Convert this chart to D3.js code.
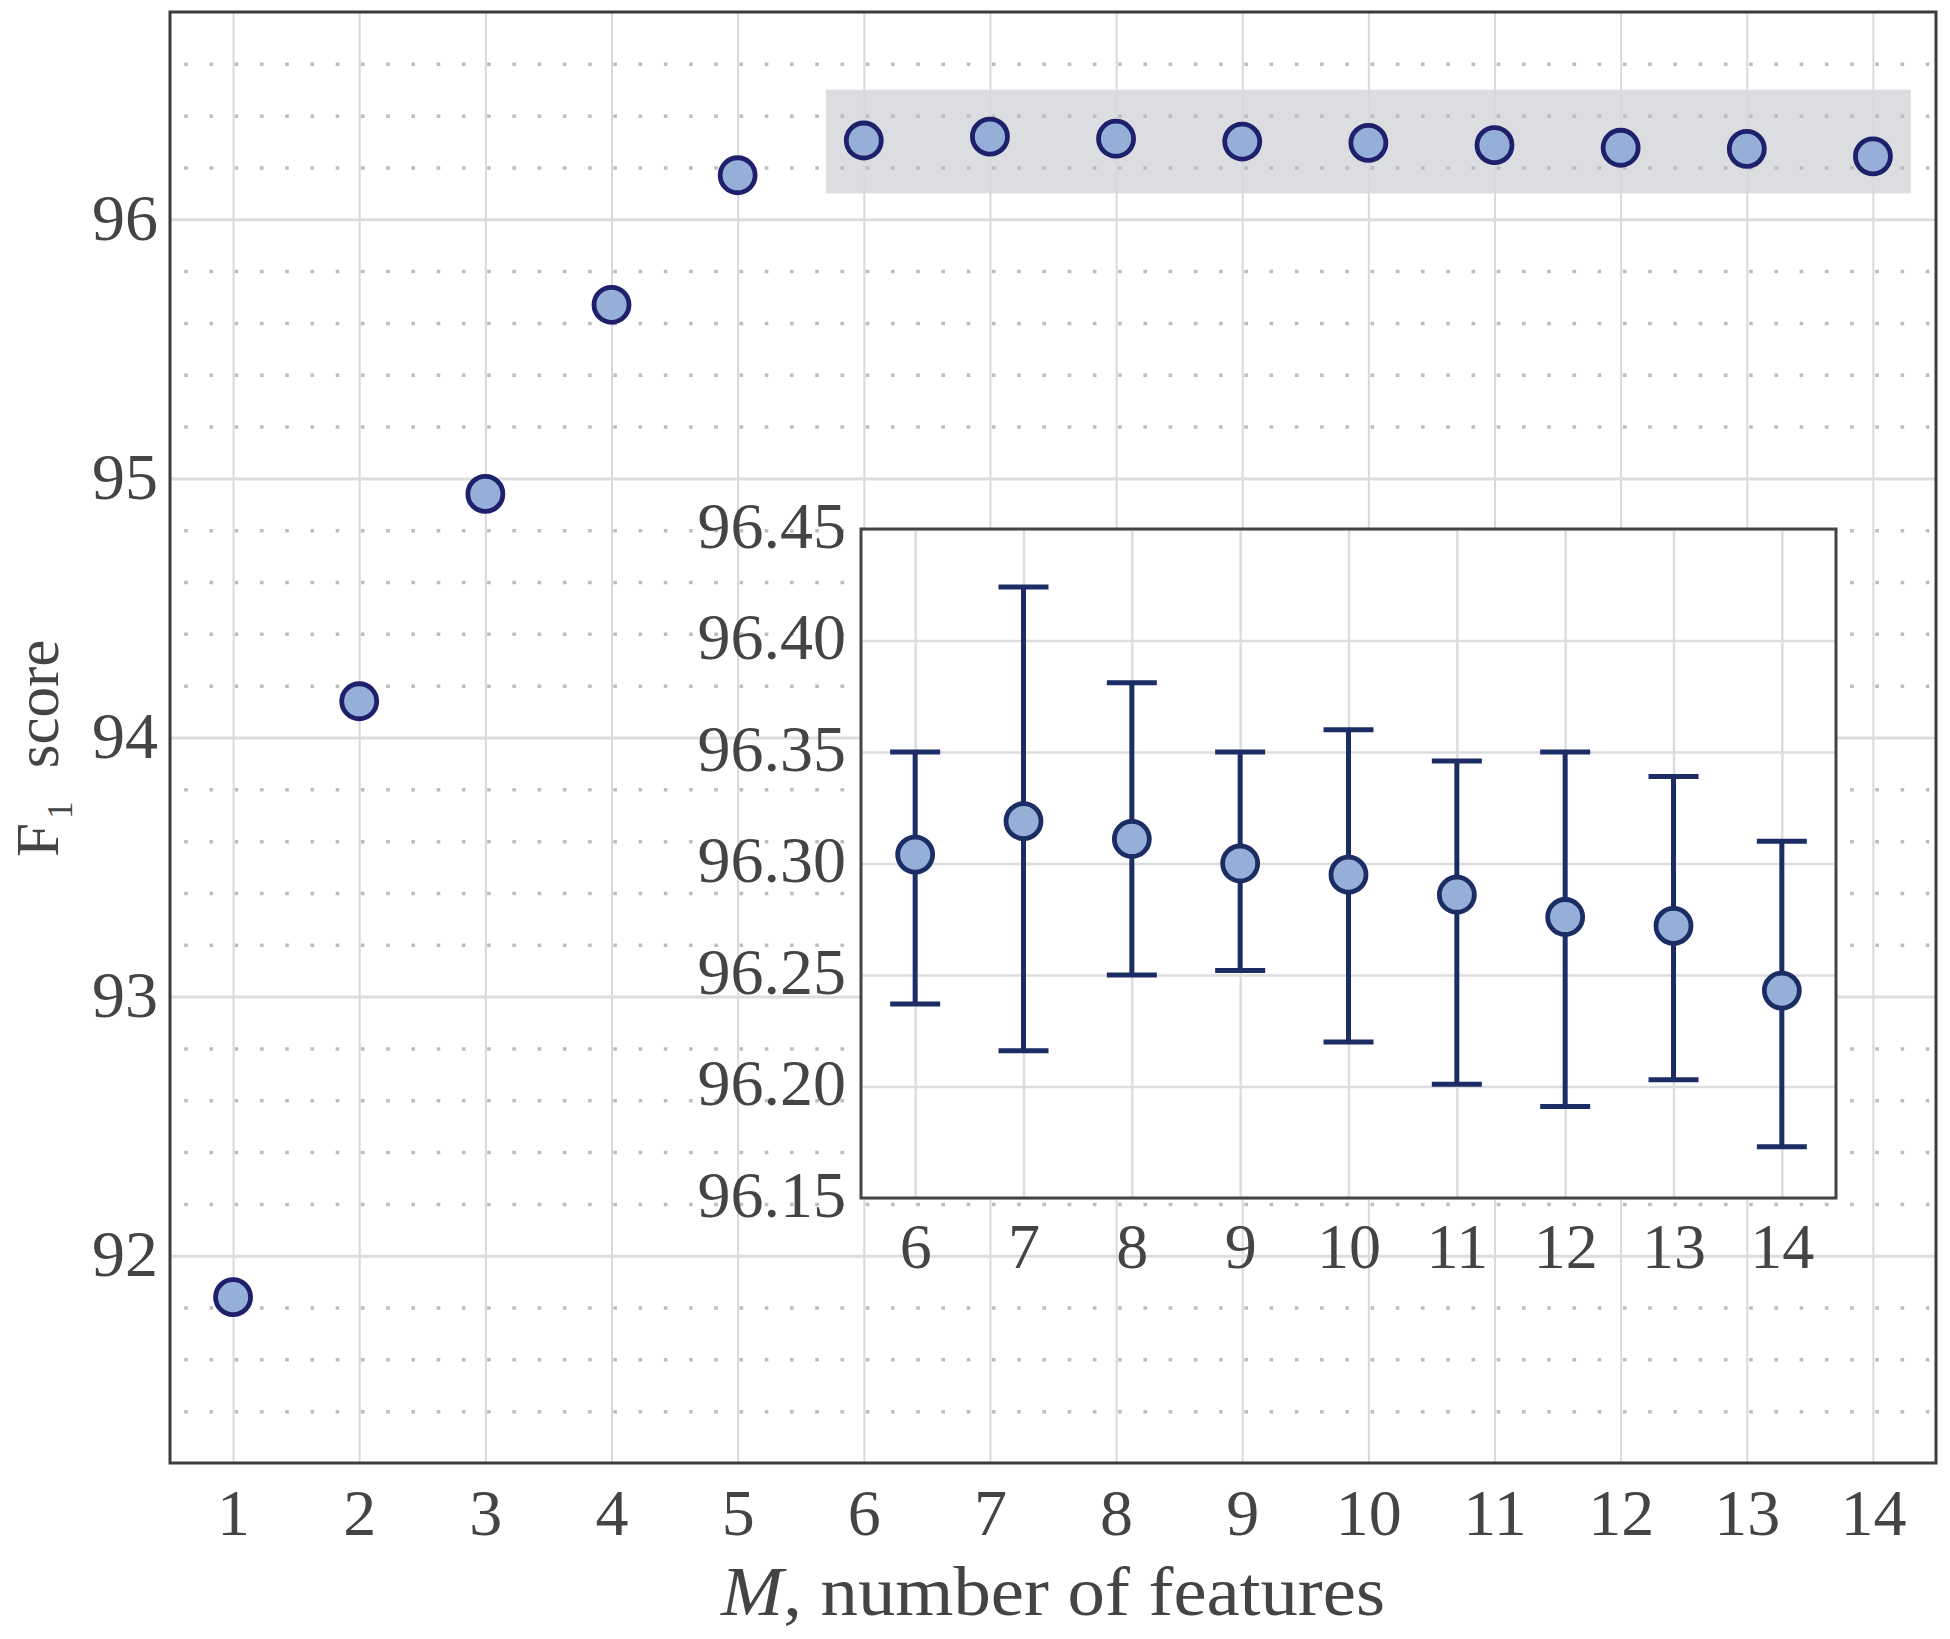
<!DOCTYPE html>
<html><head><meta charset="utf-8">
<script src="https://cdn.jsdelivr.net/npm/d3@7"></script>
<style>body{margin:0;background:#fff}</style>
</head><body>
<svg id="c" width="1950" height="1639"></svg>
<script>
// ---- data ----
const features = [1,2,3,4,5,6,7,8,9,10,11,12,13,14];
const f1Mean = [91.84,94.14,94.94,95.67,96.17,96.304,96.319,96.311,96.300,96.295,96.286,96.276,96.272,96.243];
const insetFeatures = [6,7,8,9,10,11,12,13,14];
const insetMean = [96.304,96.319,96.311,96.300,96.295,96.286,96.276,96.272,96.243];
const insetLower = [96.237,96.216,96.250,96.252,96.220,96.201,96.191,96.203,96.173];
const insetUpper = [96.350,96.424,96.381,96.350,96.360,96.346,96.350,96.339,96.310];
const mainYTicks = [92,93,94,95,96];
const mainYTickLabels = ["92","93","94","95","96"];
const insetYTicks = [96.15,96.20,96.25,96.30,96.35,96.40,96.45];
const insetYTickLabels = ["96.15","96.20","96.25","96.30","96.35","96.40","96.45"];
const highlightX = [5.7,14.3];
const highlightY = [96.1,96.5];

// ---- setup ----
const svg = d3.select('#c');
const W = 1950, H = 1639;
const FONT = "'Liberation Serif','DejaVu Serif',serif";
const TXT = '#444';
svg.append('rect').attr('width',W).attr('height',H).attr('fill','#fff');

const M = {l:170, r:1936, t:12, b:1463};
const x = d3.scaleLinear().domain([0.5,14.5]).range([M.l,M.r]);
const y = d3.scaleLinear().domain([91.2,96.8]).range([M.b,M.t]);

// highlight band
svg.append('rect')
  .attr('x',x(highlightX[0])).attr('y',y(highlightY[1]))
  .attr('width',x(highlightX[1])-x(highlightX[0]))
  .attr('height',y(highlightY[0])-y(highlightY[1]))
  .attr('fill','#dcdde0');

// minor dotted horizontal grid
const minorY = d3.range(0,29).map(i => +(91.2 + 0.2*i).toFixed(1)).filter(v => v>91.2 && v<96.8 && Math.abs(v-Math.round(v))>1e-6);
const gMinor = svg.append('g').attr('transform',`translate(${M.l},0)`)
  .call(d3.axisLeft(y).tickValues(minorY).tickSize(-(M.r-M.l)).tickFormat(''));
gMinor.select('.domain').remove();
gMinor.selectAll('line').attr('stroke','#bdbdbd').attr('stroke-width',3.5)
  .attr('stroke-dasharray','3.6 21.64').attr('stroke-dashoffset',10.99);

// major vertical grid
const gVx = svg.append('g').attr('transform',`translate(0,${M.b})`)
  .call(d3.axisBottom(x).tickValues(features).tickSize(-(M.b-M.t)).tickFormat(''));
gVx.select('.domain').remove();
gVx.selectAll('line').attr('stroke','#d9d9db').attr('stroke-width',2);

// major horizontal grid
const gHy = svg.append('g').attr('transform',`translate(${M.l},0)`)
  .call(d3.axisLeft(y).tickValues(mainYTicks).tickSize(-(M.r-M.l)).tickFormat(''));
gHy.select('.domain').remove();
gHy.selectAll('line').attr('stroke','#dcdddf').attr('stroke-width',3);

// main markers
svg.append('g').selectAll('circle').data(features).join('circle')
  .attr('cx',(d)=>x(d)).attr('cy',(d,i)=>y(f1Mean[i])).attr('r',17.5)
  .attr('fill','#95afd8').attr('stroke','#1e206c').attr('stroke-width',4.8);

// main frame
svg.append('rect').attr('x',M.l).attr('y',M.t).attr('width',M.r-M.l).attr('height',M.b-M.t)
  .attr('fill','none').attr('stroke','#3c3c3c').attr('stroke-width',3);

// main tick labels
const axL = svg.append('g').attr('transform',`translate(${M.l},0)`)
  .call(d3.axisLeft(y).tickValues(mainYTicks).tickSize(0).tickPadding(12).tickFormat((d,i)=>mainYTickLabels[i]));
axL.select('.domain').remove();
axL.selectAll('text').attr('font-family',FONT).attr('font-size',66).attr('fill',TXT).attr('dy','0.3em');

const axB = svg.append('g').attr('transform',`translate(0,${M.b})`)
  .call(d3.axisBottom(x).tickValues(features).tickSize(0).tickPadding(25).tickFormat(d=>String(d)));
axB.select('.domain').remove();
axB.selectAll('text').attr('font-family',FONT).attr('font-size',66).attr('fill',TXT);

// ---- inset ----
const I = {l:861, r:1836, t:529, b:1198};
const xi = d3.scaleLinear().domain([5.5,14.5]).range([I.l,I.r]);
const yi = d3.scaleLinear().domain([96.15,96.45]).range([I.b,I.t]);

svg.append('rect').attr('x',I.l).attr('y',I.t).attr('width',I.r-I.l).attr('height',I.b-I.t).attr('fill','#fff');

const giv = svg.append('g').attr('transform',`translate(0,${I.b})`)
  .call(d3.axisBottom(xi).tickValues(insetFeatures).tickSize(-(I.b-I.t)).tickFormat(''));
giv.select('.domain').remove();
giv.selectAll('line').attr('stroke','#dcdddf').attr('stroke-width',2.5);

const gih = svg.append('g').attr('transform',`translate(${I.l},0)`)
  .call(d3.axisLeft(yi).tickValues(insetYTicks).tickSize(-(I.r-I.l)).tickFormat(''));
gih.select('.domain').remove();
gih.selectAll('line').attr('stroke','#dcdddf').attr('stroke-width',2.5);

const EB = '#1b2d64';
const eb = svg.append('g');
eb.selectAll('line.v').data(insetFeatures).join('line').attr('class','v')
  .attr('x1',d=>xi(d)).attr('x2',d=>xi(d))
  .attr('y1',(d,i)=>yi(insetLower[i])).attr('y2',(d,i)=>yi(insetUpper[i]))
  .attr('stroke',EB).attr('stroke-width',5);
eb.selectAll('line.cu').data(insetFeatures).join('line').attr('class','cu')
  .attr('x1',d=>xi(d)-25).attr('x2',d=>xi(d)+25)
  .attr('y1',(d,i)=>yi(insetUpper[i])).attr('y2',(d,i)=>yi(insetUpper[i]))
  .attr('stroke',EB).attr('stroke-width',5);
eb.selectAll('line.cl').data(insetFeatures).join('line').attr('class','cl')
  .attr('x1',d=>xi(d)-25).attr('x2',d=>xi(d)+25)
  .attr('y1',(d,i)=>yi(insetLower[i])).attr('y2',(d,i)=>yi(insetLower[i]))
  .attr('stroke',EB).attr('stroke-width',5);
eb.selectAll('circle').data(insetFeatures).join('circle')
  .attr('cx',d=>xi(d)).attr('cy',(d,i)=>yi(insetMean[i])).attr('r',17.5)
  .attr('fill','#95afd8').attr('stroke',EB).attr('stroke-width',4.8);

svg.append('rect').attr('x',I.l).attr('y',I.t).attr('width',I.r-I.l).attr('height',I.b-I.t)
  .attr('fill','none').attr('stroke','#444').attr('stroke-width',3);

const iaxL = svg.append('g').attr('transform',`translate(${I.l},0)`)
  .call(d3.axisLeft(yi).tickValues(insetYTicks).tickSize(0).tickPadding(15).tickFormat((d,i)=>insetYTickLabels[i]));
iaxL.select('.domain').remove();
iaxL.selectAll('text').attr('font-family',FONT).attr('font-size',66).attr('fill',TXT).attr('dy','0.28em');

const iaxB = svg.append('g').attr('transform',`translate(0,${I.b})`)
  .call(d3.axisBottom(xi).tickValues(insetFeatures).tickSize(0).tickPadding(25).tickFormat(d=>String(d)));
iaxB.select('.domain').remove();
iaxB.selectAll('text').attr('font-family',FONT).attr('font-size',64).attr('fill',TXT);

// ---- axis titles ----
const xt = svg.append('text').attr('x',(M.l+M.r)/2).attr('y',1615)
  .attr('text-anchor','middle').attr('font-family',FONT).attr('font-size',70).attr('fill',TXT)
  .attr('textLength',664).attr('lengthAdjust','spacingAndGlyphs');
xt.append('tspan').attr('font-style','italic').text('M');
xt.append('tspan').text(', number of features');

const yt = svg.append('text').attr('transform','translate(58,857) rotate(-90)')
  .attr('text-anchor','start').attr('font-family',FONT).attr('font-size',61).attr('fill',TXT);
yt.append('tspan').text('F');
yt.append('tspan').attr('font-size',35).attr('dx',4).attr('dy',14).text('1');
yt.append('tspan').attr('dx',18).attr('dy',-14).text(' score');
</script>
</body></html>
